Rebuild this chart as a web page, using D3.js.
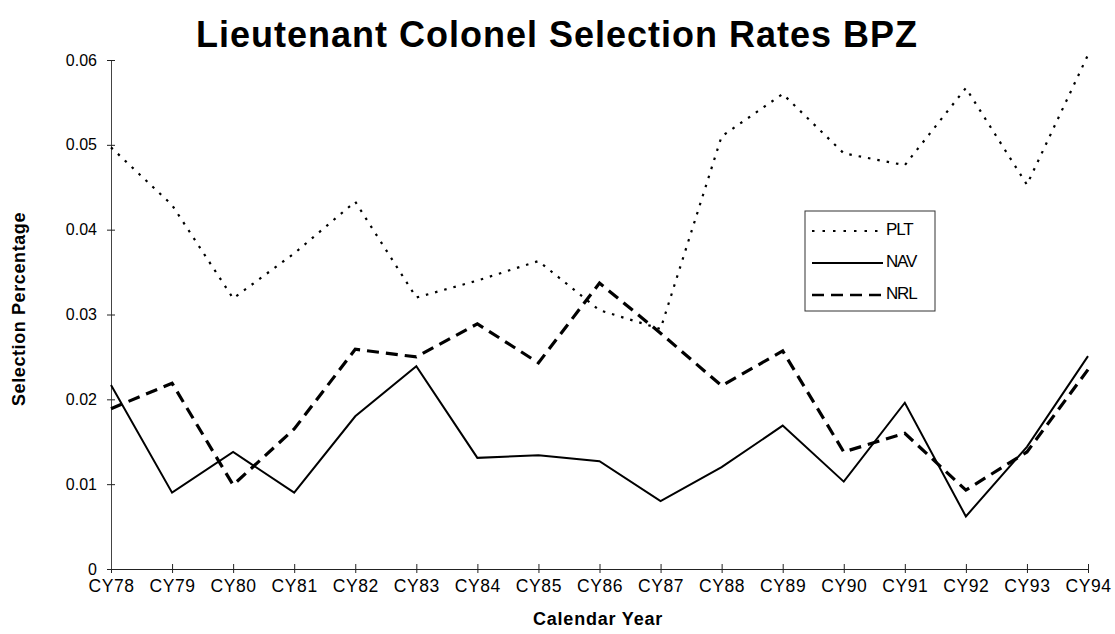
<!DOCTYPE html>
<html>
<head>
<meta charset="utf-8">
<script src="https://cdn.jsdelivr.net/npm/d3@7"></script>
<style>
  body { margin: 0; background: #fff; }
  svg text { font-family: "Liberation Sans", Arial, sans-serif; fill: #000; }
</style>
</head>
<body>
<div class="chart"></div>
<script>
const years = ["CY78","CY79","CY80","CY81","CY82","CY83","CY84","CY85","CY86","CY87","CY88","CY89","CY90","CY91","CY92","CY93","CY94"];
const plt = [0.0497,0.0429,0.0319,0.0372,0.0433,0.0320,0.0340,0.0363,0.0305,0.0283,0.0510,0.0560,0.0490,0.0476,0.0567,0.0453,0.0606];
const nav = [0.0217,0.0090,0.0138,0.0090,0.0180,0.0239,0.0131,0.0134,0.0127,0.0080,0.0120,0.0169,0.0103,0.0196,0.0062,0.0144,0.0251];
const nrl = [0.0189,0.0219,0.0099,0.0165,0.0259,0.0250,0.0289,0.0243,0.0337,0.0278,0.0216,0.0257,0.0138,0.0160,0.0093,0.0138,0.0235];
const yTicks = [0,0.01,0.02,0.03,0.04,0.05,0.06];
const yTickLabels = ["0","0.01","0.02","0.03","0.04","0.05","0.06"];

const width = 1115, height = 634;
const margin = {left: 111, right: 27, top: 60, bottom: 65};

const svg = d3.select(".chart").append("svg")
    .attr("width", width).attr("height", height)
    .attr("viewBox", [0, 0, width, height]);

const x = d3.scalePoint()
    .domain(years)
    .range([margin.left, width - margin.right]);

const y = d3.scaleLinear()
    .domain([0, 0.06])
    .range([height - margin.bottom, margin.top]);

// axes
svg.append("g")
    .attr("transform", `translate(0,${height - margin.bottom})`)
    .call(d3.axisBottom(x).tickSize(0).tickPadding(11))
    .call(g => g.select(".domain").attr("stroke", "#222"))
    .call(g => g.selectAll(".tick line").clone().attr("y1", -5).attr("y2", 4).attr("stroke", "#222"))
    .call(g => g.selectAll(".tick text")
        .attr("font-size", 17.5).attr("letter-spacing", 0.6)
        .attr("font-family", "Liberation Sans, Arial, sans-serif"));

svg.append("g")
    .attr("transform", `translate(${margin.left},0)`)
    .call(d3.axisLeft(y).tickValues(yTicks).tickFormat((d, i) => yTickLabels[i]).tickSize(0).tickPadding(14))
    .call(g => g.select(".domain").attr("stroke", "#444"))
    .call(g => g.selectAll(".tick line").clone().attr("x1", -4).attr("x2", 4).attr("stroke", "#222"))
    .call(g => g.selectAll(".tick text").attr("font-size", 16).attr("font-family", "Liberation Sans, Arial, sans-serif"));

// lines
const line = d3.line()
    .x((d, i) => x(years[i]))
    .y(d => y(d));

const series = [
    {name: "PLT", values: plt, width: 2.2, dash: "2.5,7"},
    {name: "NAV", values: nav, width: 2, dash: null},
    {name: "NRL", values: nrl, width: 3.2, dash: "12,7"}
];

svg.selectAll("path.series")
    .data(series)
    .join("path")
    .attr("class", "series")
    .attr("d", d => line(d.values))
    .attr("fill", "none")
    .attr("stroke", "#000")
    .attr("stroke-width", d => d.width)
    .attr("stroke-dasharray", d => d.dash);

// title
svg.append("text")
    .attr("x", 557).attr("y", 47)
    .attr("text-anchor", "middle")
    .attr("font-size", 36).attr("font-weight", "bold")
    .attr("letter-spacing", 1)
    .text("Lieutenant Colonel Selection Rates BPZ");

svg.append("text")
    .attr("transform", "translate(25,309) rotate(-90)")
    .attr("text-anchor", "middle")
    .attr("font-size", 18).attr("font-weight", "bold")
    .attr("letter-spacing", 0.6)
    .text("Selection Percentage");

svg.append("text")
    .attr("x", 598).attr("y", 625)
    .attr("text-anchor", "middle")
    .attr("font-size", 18).attr("font-weight", "bold")
    .attr("letter-spacing", 0.8)
    .text("Calendar Year");

// legend
const legend = svg.append("g").attr("transform", "translate(805,211)");
legend.append("rect")
    .attr("width", 130).attr("height", 100)
    .attr("fill", "#fff").attr("stroke", "#333").attr("stroke-width", 1);

const row = legend.selectAll("g.row")
    .data(series)
    .join("g")
    .attr("class", "row")
    .attr("transform", (d, i) => `translate(0,${20 + i * 32})`);

row.append("line")
    .attr("x1", 7).attr("x2", 78)
    .attr("stroke", "#000")
    .attr("stroke-width", d => Math.min(d.width, 2.4))
    .attr("stroke-dasharray", (d, i) => i === 0 ? "2.5,8" : d.dash);

row.append("text")
    .attr("x", 81).attr("y", 4)
    .attr("font-size", 17)
    .attr("letter-spacing", -1.2)
    .text(d => d.name);
</script>
</body>
</html>
